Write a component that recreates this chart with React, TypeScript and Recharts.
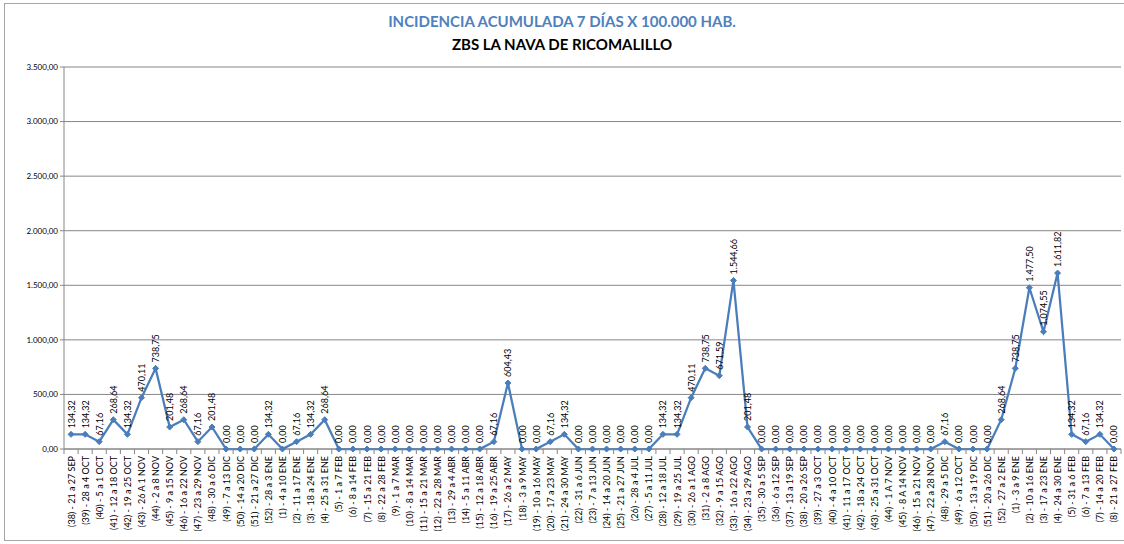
import React from "react";
import { LineChart, Line, XAxis, YAxis, CartesianGrid, LabelList } from "recharts";

const weeks = [
  "(38) - 21 a 27 SEP", "(39) - 28 a 4 OCT", "(40) - 5 a 1 OCT", "(41) - 12 a 18 OCT",
  "(42) - 19 a 25 OCT", "(43) - 26 A 1 NOV", "(44) - 2 a 8 NOV", "(45) - 9 a 15 NOV",
  "(46) - 16 a 22 NOV", "(47) - 23 a 29 NOV", "(48) - 30 a 6 DIC", "(49) - 7 a 13 DIC",
  "(50) - 14 a 20 DIC", "(51) - 21 a 27 DIC", "(52) - 28 a 3 ENE", "(1) - 4 a 10 ENE",
  "(2) - 11 a 17 ENE", "(3) - 18 a 24 ENE", "(4) - 25 a 31 ENE", "(5) - 1 a 7 FEB",
  "(6) - 8 a 14 FEB", "(7) - 15 a 21 FEB", "(8) - 22 a 28 FEB", "(9) - 1 a 7 MAR",
  "(10) - 8 a 14 MAR", "(11) - 15 a 21 MAR", "(12) - 22 a 28 MAR", "(13) - 29 a 4 ABR",
  "(14) - 5 a 11 ABR", "(15) - 12 a 18 ABR", "(16) - 19 a 25 ABR", "(17) - 26 a 2 MAY",
  "(18) - 3 a 9 MAY", "(19) - 10 a 16 MAY", "(20) - 17 a 23 MAY", "(21) - 24 a 30 MAY",
  "(22) - 31 a 6 JUN", "(23) - 7 a 13 JUN", "(24) - 14 a 20 JUN", "(25) - 21 a 27 JUN",
  "(26) - 28 a 4 JUL", "(27) - 5 a 11 JUL", "(28) - 12 a 18 JUL", "(29) - 19 a 25 JUL",
  "(30) - 26 a 1 AGO", "(31) - 2 a 8 AGO", "(32) - 9 a 15 AGO", "(33) - 16 a 22 AGO",
  "(34) - 23 a 29 AGO", "(35) - 30 a 5 SEP", "(36) - 6 a 12 SEP", "(37) - 13 a 19 SEP",
  "(38) - 20 a 26 SEP", "(39) - 27 a 3 OCT", "(40) - 4 a 10 OCT", "(41) - 11 a 17 OCT",
  "(42) - 18 a 24 OCT", "(43) - 25 a 31 OCT", "(44) - 1 A 7 NOV", "(45) - 8 A 14 NOV",
  "(46) - 15 a 21 NOV", "(47) - 22 a 28 NOV", "(48) - 29 a 5 DIC", "(49) - 6 a 12 OCT",
  "(50) - 13 a 19 DIC", "(51) - 20 a 26 DIC", "(52) - 27 a 2 ENE", "(1) - 3 a 9 ENE",
  "(2) - 10 a 16 ENE", "(3) - 17 a 23 ENE", "(4) - 24 a 30 ENE", "(5) - 31 a 6 FEB",
  "(6) - 7 a 13 FEB", "(7) - 14 a 20 FEB", "(8) - 21 a 27 FEB",
];

const incidence = [
  134.32, 134.32, 67.16, 268.64, 134.32, 470.11, 738.75, 201.48, 268.64, 67.16,
  201.48, 0, 0, 0, 134.32, 0, 67.16, 134.32, 268.64, 0,
  0, 0, 0, 0, 0, 0, 0, 0, 0, 0,
  67.16, 604.43, 0, 0, 67.16, 134.32, 0, 0, 0, 0,
  0, 0, 134.32, 134.32, 470.11, 738.75, 671.59, 1544.66, 201.48, 0,
  0, 0, 0, 0, 0, 0, 0, 0, 0, 0,
  0, 0, 67.16, 0, 0, 0, 268.64, 738.75, 1477.5, 1074.55,
  1611.82, 134.32, 67.16, 134.32, 0,
];

const yTicks = [0, 500, 1000, 1500, 2000, 2500, 3000, 3500];

const data = weeks.map((week, i) => ({ week, value: incidence[i] }));

const BLUE = "#4A7EBB";
const FONT = "Lato, 'Open Sans', sans-serif";
const BAND = 1057 / weeks.length;

const fmt = (v: number) =>
  v.toLocaleString("de-DE", { minimumFractionDigits: 2, maximumFractionDigits: 2 });

function WeekTick({ x, y, payload, index }: any) {
  return (
    <g>
      <line x1={x - BAND / 2} y1={y - 8} x2={x - BAND / 2} y2={y - 3} stroke="#868686" />
      {index === weeks.length - 1 && (
        <line x1={x + BAND / 2} y1={y - 8} x2={x + BAND / 2} y2={y - 3} stroke="#868686" />
      )}
      <text
        x={x}
        y={y - 1}
        transform={`rotate(-90, ${x}, ${y - 1})`}
        textAnchor="end"
        dominantBaseline="central"
        fontSize={9}
        fontFamily={FONT}
        fill="#000"
      >
        {payload.value}
      </text>
    </g>
  );
}

function Diamond({ cx, cy }: any) {
  if (cx == null || cy == null) return null;
  const r = 3;
  return (
    <polygon
      points={`${cx},${cy - r} ${cx + r},${cy} ${cx},${cy + r} ${cx - r},${cy}`}
      fill={BLUE}
      stroke={BLUE}
    />
  );
}

function ValueLabel({ x, y, value }: any) {
  const lx = x;
  const ly = y - 6;
  return (
    <text
      x={lx}
      y={ly}
      transform={`rotate(-90, ${lx}, ${ly})`}
      textAnchor="start"
      dominantBaseline="central"
      fontSize={9}
      fontFamily={FONT}
      fill="#000"
    >
      {fmt(value)}
    </text>
  );
}

export default function App() {
  return (
    <div
      style={{
        position: "absolute",
        left: 0,
        top: 0,
        width: 1124,
        height: 544,
        background: "#fff",
      }}
    >
      <div
        style={{
          position: "absolute",
          left: 4,
          top: 3,
          width: 1124,
          height: 538,
          border: "1px solid #A6A6A6",
          boxSizing: "border-box",
        }}
      />
      <div
        style={{
          position: "absolute",
          left: 0,
          top: 12,
          width: 1124,
          textAlign: "center",
          fontFamily: FONT,
          fontWeight: 700,
          fontSize: 15,
          color: "#4F81BD",
        }}
      >
        INCIDENCIA ACUMULADA 7 DÍAS X 100.000 HAB.
      </div>
      <div
        style={{
          position: "absolute",
          left: 0,
          top: 35,
          width: 1124,
          textAlign: "center",
          fontFamily: FONT,
          fontWeight: 700,
          fontSize: 15,
          color: "#000",
        }}
      >
        ZBS LA NAVA DE RICOMALILLO
      </div>
      <div style={{ position: "absolute", left: 0, top: 0 }}>
        <LineChart
          width={1124}
          height={544}
          data={data}
          margin={{ top: 67, right: 3, bottom: 0, left: 0 }}
        >
          <CartesianGrid vertical={false} stroke="#868686" strokeWidth={1} />
          <XAxis
            dataKey="week"
            interval={0}
            height={95}
            padding={{ left: BAND / 2, right: BAND / 2 }}
            tick={<WeekTick />}
            tickLine={false}
            axisLine={{ stroke: "#868686" }}
          />
          <YAxis
            domain={[0, 3500]}
            ticks={yTicks}
            width={64}
            tickFormatter={fmt}
            tick={{ fontSize: 8, fontFamily: FONT, fill: "#000" }}
            tickSize={4}
            tickLine={{ stroke: "#868686" }}
            axisLine={{ stroke: "#868686" }}
          />
          <Line
            type="linear"
            dataKey="value"
            stroke={BLUE}
            strokeWidth={2.25}
            dot={<Diamond />}
            activeDot={false}
            isAnimationActive={false}
          >
            <LabelList dataKey="value" content={<ValueLabel />} />
          </Line>
        </LineChart>
      </div>
    </div>
  );
}
